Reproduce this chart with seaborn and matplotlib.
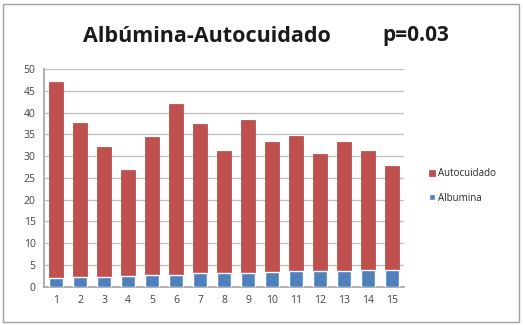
import matplotlib
matplotlib.use("Agg")
import matplotlib.pyplot as plt
import seaborn as sns
import pandas as pd
from matplotlib.patches import Rectangle

# Patient index and the two stacked components
pacientes = [str(i) for i in range(1, 16)]
albumina = [2.0, 2.3, 2.3, 2.5, 2.8, 2.8, 3.1, 3.1, 3.2, 3.3, 3.5, 3.6, 3.7, 3.8, 3.8]
autocuidado = [45.1, 35.3, 29.7, 24.3, 31.5, 39.2, 34.3, 28.1, 35.0, 29.9, 31.2, 26.8, 29.6, 27.4, 23.9]
y_ticks = [0, 5, 10, 15, 20, 25, 30, 35, 40, 45, 50]

df = pd.DataFrame({"Paciente": pacientes, "Albumina": albumina, "Autocuidado": autocuidado})
df["Total"] = df["Albumina"] + df["Autocuidado"]

sns.set_theme(style="white")
plt.rcParams["font.family"] = ["Open Sans", "DejaVu Sans"]

fig = plt.figure(figsize=(5.23, 3.25), dpi=100)
ax = fig.add_axes([44 / 523, 1 - 286.7 / 325, 360 / 523, 217.7 / 325])

red = "#C0504D"
blue = "#4F81BD"

# Stacked bars: total first (red), then the albumin portion at the base
sns.barplot(data=df, x="Paciente", y="Total", color=red, width=0.62, ax=ax,
            saturation=1, label="Autocuidado", zorder=3, edgecolor="#B04542", linewidth=0.5)
sns.barplot(data=df, x="Paciente", y="Albumina", color=blue, width=0.62, ax=ax,
            saturation=1, label="Albumina", zorder=4)

ax.set_xlim(-0.5, 14.5)
ax.set_ylim(0, 50)
ax.set_yticks(y_ticks)
ax.yaxis.grid(True, color="#BFBFBF", linewidth=0.9, zorder=0)
ax.set_xlabel("")
ax.set_ylabel("")
for s in ["top", "right"]:
    ax.spines[s].set_visible(False)
ax.spines["left"].set_color("#A6A6A6")
ax.spines["bottom"].set_color("#A6A6A6")
ax.tick_params(axis="both", labelsize=7.5, colors="#404040", length=0, pad=6)

handles, labels = ax.get_legend_handles_labels()
if ax.get_legend() is not None:
    ax.get_legend().remove()
fig.legend(handles, labels, loc="center left", bbox_to_anchor=(420 / 523, 1 - 186 / 325),
           frameon=False, fontsize=7, handlelength=0.6, handleheight=0.6,
           labelspacing=1.4, handletextpad=0.3)

fig.text(207 / 523, 1 - 36 / 325, "Albúmina-Autocuidado", ha="center", va="center",
         fontsize=15.5, fontweight="bold", color="#1a1a1a")
fig.text(416 / 523, 1 - 36 / 325, "p=0.03", ha="center", va="center",
         fontsize=15, fontweight="bold", color="#1a1a1a")

fig.patches.append(Rectangle((3 / 523, 3 / 325), 516 / 523, 318 / 325, transform=fig.transFigure,
                             fill=False, edgecolor="#A0A0A0", linewidth=1.0))

fig.savefig("out.png", dpi=100)
